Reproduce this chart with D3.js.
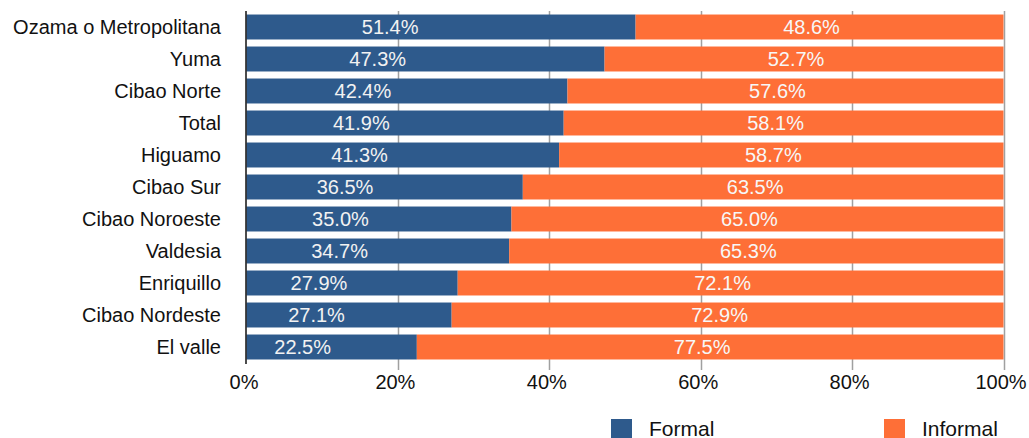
<!DOCTYPE html>
<meta charset="utf-8">
<style>
	body { margin: 0; background: #fff; }
	text { font-family: "Liberation Sans", Arial, Helvetica, sans-serif; }
</style>
<svg width="1029" height="438"></svg>
<script src="https://d3js.org/d3.v7.min.js"></script>
<script>
	var regions = ["Ozama o Metropolitana", "Yuma", "Cibao Norte", "Total", "Higuamo", "Cibao Sur", "Cibao Noroeste", "Valdesia", "Enriquillo", "Cibao Nordeste", "El valle"];
	var formal = [51.4, 47.3, 42.4, 41.9, 41.3, 36.5, 35.0, 34.7, 27.9, 27.1, 22.5];
	var informal = [48.6, 52.7, 57.6, 58.1, 58.7, 63.5, 65.0, 65.3, 72.1, 72.9, 77.5];
	var ticks = [0, 20, 40, 60, 80, 100];
	var seriesNames = ["Formal", "Informal"];

	var svg = d3.select("svg"),
		colors = ["#2e5a8c", "#fe6f37"];

	var x = d3.scaleLinear().domain([0, 100]).range([246.5, 1003.5]);
	var y = d3.scaleBand().domain(regions).range([11, 363]).paddingInner(0.22).paddingOuter(0.11);

	var rows = regions.map(function(r, i){ return {name: r, formal: formal[i], informal: informal[i]}; });

	// gridlines
	svg.append("g").selectAll("line").data(ticks.slice(1)).enter().append("line")
		.attr("x1", function(d){ return Math.round(x(d)) + 0.5; })
		.attr("x2", function(d){ return Math.round(x(d)) + 0.5; })
		.attr("y1", 11).attr("y2", 370)
		.attr("stroke", "#a0a0a0").attr("stroke-width", 1.5);

	// bars
	var g = svg.append("g");
	g.selectAll("rect.f").data(rows).enter().append("rect")
		.attr("x", x(0)).attr("y", function(d){ return y(d.name); })
		.attr("width", function(d){ return x(d.formal) - x(0); })
		.attr("height", y.bandwidth())
		.attr("fill", colors[0]);
	g.selectAll("rect.i").data(rows).enter().append("rect")
		.attr("x", function(d){ return x(d.formal); }).attr("y", function(d){ return y(d.name); })
		.attr("width", function(d){ return x(100) - x(d.formal); })
		.attr("height", y.bandwidth())
		.attr("fill", colors[1]);

	// bar labels
	g.selectAll("text.f").data(rows).enter().append("text")
		.attr("x", function(d){ return x(0) + (x(d.formal) - x(0)) * 0.4 - 12; })
		.attr("y", function(d){ return y(d.name) + y.bandwidth() / 2; })
		.attr("dy", "0.36em").attr("text-anchor", "middle")
		.attr("fill", "#f2f2f2").style("font-size", "20px")
		.text(function(d){ return d.formal.toFixed(1) + "%"; });
	g.selectAll("text.i").data(rows).enter().append("text")
		.attr("x", function(d){ return (x(d.formal) + x(100)) / 2 - 8; })
		.attr("y", function(d){ return y(d.name) + y.bandwidth() / 2; })
		.attr("dy", "0.36em").attr("text-anchor", "middle")
		.attr("fill", "#f7f7f7").style("font-size", "20px")
		.text(function(d){ return d.informal.toFixed(1) + "%"; });

	// y axis line and labels
	svg.append("line").attr("x1", 246).attr("x2", 246).attr("y1", 11).attr("y2", 364)
		.attr("stroke", "#111").attr("stroke-width", 1.5);
	svg.append("g").selectAll("text").data(regions).enter().append("text")
		.attr("x", 221).attr("y", function(d){ return y(d) + y.bandwidth() / 2; })
		.attr("dy", "0.36em").attr("text-anchor", "end")
		.attr("fill", "#111").style("font-size", "20px")
		.text(function(d){ return d; });

	// x tick labels
	svg.append("g").selectAll("text").data(ticks).enter().append("text")
		.attr("x", function(d){ return x(d) - 2.5; }).attr("y", 382)
		.attr("dy", "0.36em").attr("text-anchor", "middle")
		.attr("fill", "#111").style("font-size", "20px")
		.text(function(d){ return d + "%"; });

	// legend
	var legX = [611, 884];
	var leg = svg.append("g").selectAll("g").data(seriesNames).enter().append("g")
		.attr("transform", function(d, i){ return "translate(" + legX[i] + ",419)"; });
	leg.append("rect").attr("width", 21).attr("height", 19)
		.attr("fill", function(d, i){ return colors[i]; });
	leg.append("text").attr("x", 38).attr("y", 16.5)
		.attr("fill", "#111").style("font-size", "21px")
		.text(function(d){ return d; });
</script>
